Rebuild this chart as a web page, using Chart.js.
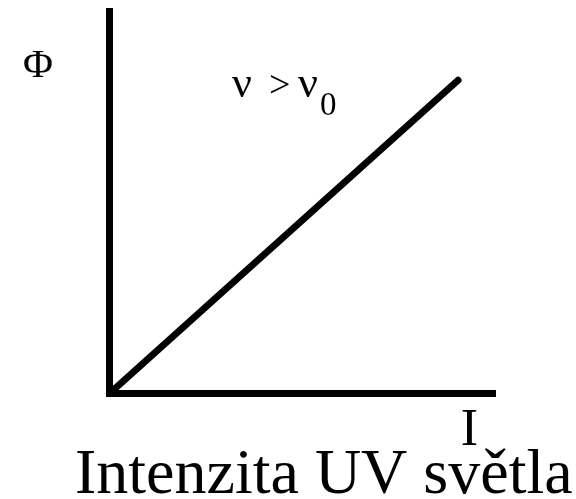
<!DOCTYPE html>
<html>
<head>
<meta charset="utf-8">
<script src="https://cdn.jsdelivr.net/npm/chart.js@4.4.1/dist/chart.umd.min.js"></script>
<style>
  html, body { margin: 0; padding: 0; background: #fff; }
  #wrap { width: 576px; height: 499px; }
</style>
</head>
<body>
<div id="wrap"><canvas id="uvChart" width="576" height="499"></canvas></div>
<script>
// intenzita svetla vs. fotoproud (v > v0)
const intensity = [0, 91];
const photoCurrent = [0, 82];
const yLabel = 'Φ';
const xLabel = 'I';
const xTitle = 'Intenzita UV světla';
const conditionParts = ['ν', '>', 'ν', '0'];

const serif = '"Liberation Serif", "DejaVu Serif", serif';

const labelsPlugin = {
  id: 'labels',
  afterDraw(chart) {
    const ctx = chart.ctx;
    ctx.save();
    ctx.fillStyle = '#000';
    ctx.textBaseline = 'alphabetic';

    ctx.font = '41px ' + serif;
    ctx.textAlign = 'center';
    ctx.fillText(yLabel, 38, 77);

    // v > v0
    ctx.textAlign = 'left';
    ctx.font = '44px ' + serif;
    ctx.fillText(conditionParts[0], 232, 97);
    ctx.font = '38px ' + serif;
    ctx.fillText(conditionParts[1], 269, 97);
    ctx.font = '44px ' + serif;
    ctx.fillText(conditionParts[2], 298, 97);
    ctx.font = '33px ' + serif;
    ctx.fillText(conditionParts[3], 320, 115);

    ctx.textAlign = 'center';
    ctx.font = '52px ' + serif;
    ctx.fillText(xLabel, 469.5, 445);

    ctx.textAlign = 'left';
    ctx.font = '64px ' + serif;
    ctx.fillText(xTitle, 75, 493);
    ctx.restore();
  }
};

new Chart(document.getElementById('uvChart'), {
  type: 'line',
  data: {
    datasets: [{
      data: intensity.map((x, i) => ({ x, y: photoCurrent[i] })),
      borderColor: '#000',
      borderWidth: 7,
      borderCapStyle: 'round',
      pointRadius: 0,
      tension: 0,
      clip: false
    }]
  },
  options: {
    responsive: false,
    animation: false,
    layout: { padding: { left: 109.5, right: 83.5, top: 11.5, bottom: 105.5 } },
    plugins: { legend: { display: false }, tooltip: { enabled: false } },
    scales: {
      x: {
        type: 'linear', min: 0, max: 100,
        ticks: { display: false },
        grid: { display: false, drawTicks: false, lineWidth: 7 },
        border: { display: true, color: '#000', width: 7 }
      },
      y: {
        type: 'linear', min: 0, max: 100,
        ticks: { display: false },
        grid: { display: false, drawTicks: false, lineWidth: 7 },
        border: { display: true, color: '#000', width: 7 }
      }
    }
  },
  plugins: [labelsPlugin]
});
</script>
</body>
</html>
